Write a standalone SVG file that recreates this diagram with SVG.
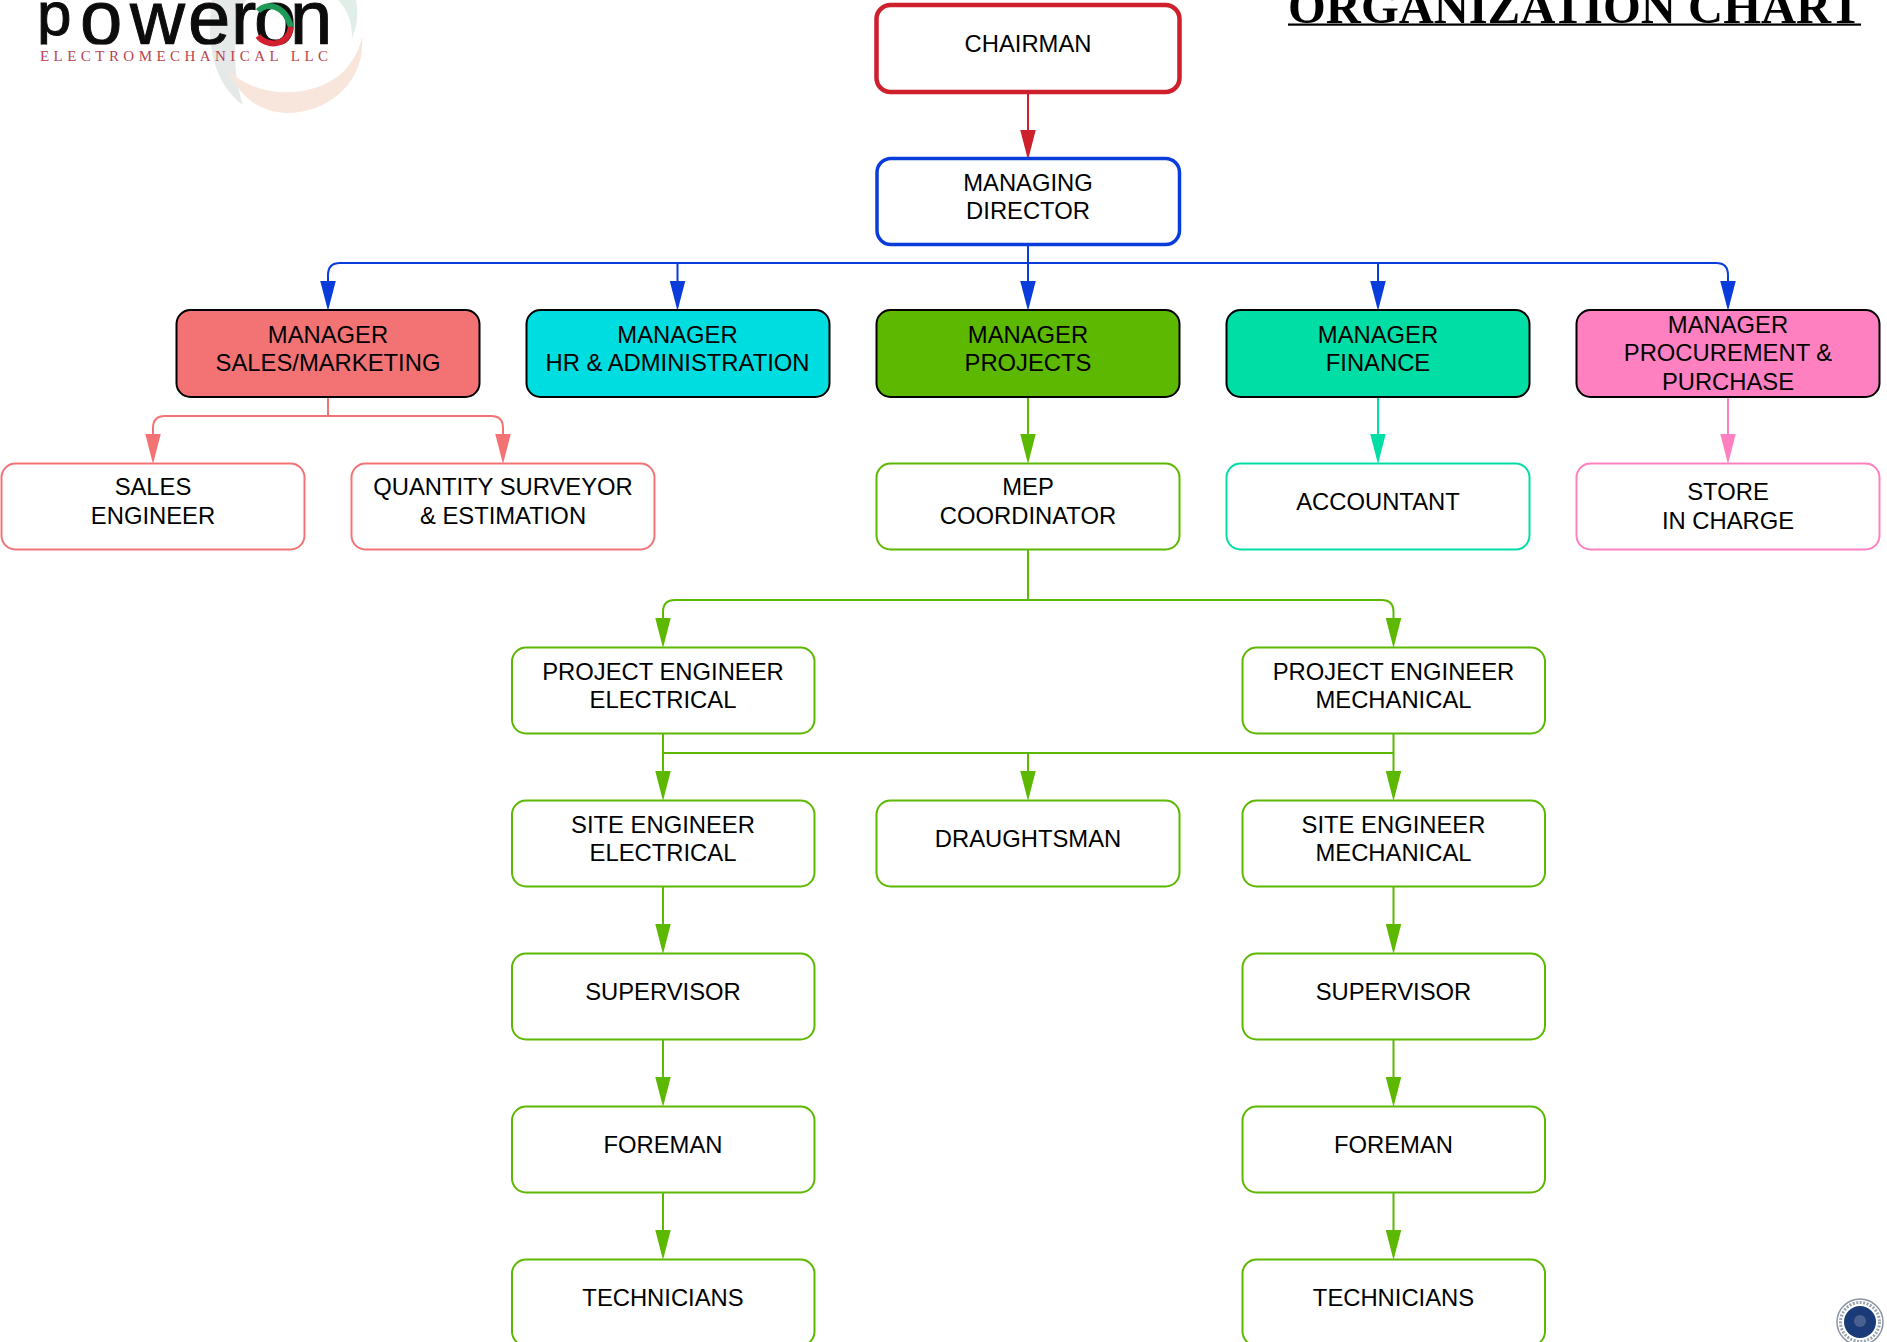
<svg xmlns="http://www.w3.org/2000/svg" width="1887" height="1342" viewBox="0 0 1887 1342">
<style>
text{font-family:"Liberation Sans",Arial,sans-serif}
.t{font-size:23.800px;fill:#000;text-anchor:middle}
.b{fill:#fff;stroke-width:2}
.m{stroke:#000;stroke-width:2}
.c{fill:none;stroke-width:2}
.red{stroke:#cd202c}.blue{stroke:#0a3cdc}.green{stroke:#5cb800}.sal{stroke:#f37375}.teal{stroke:#00dea6}.pink{stroke:#ff80c0}
</style>
<defs>
<clipPath id="logoClip"><rect x="30" y="0" width="310" height="44.500"/></clipPath>
<path id="h" d="M-7.750 -29H7.750L0 1Z"/>
</defs>
<g id="logo">
<path d="M212 0C205 45 215 85 243 105C232 70 232 30 246 0Z" fill="#e5e9e8"/>
<path d="M338 0C348 10 352 22 352 38C358 25 358 12 356 0Z" fill="#dfeee6"/>
<path d="M226 66C245 95 310 105 345 70C355 58 360 48 362 36C366 85 325 113 288 113C258 113 238 95 226 66Z" fill="#f8e6dc"/>
<text clip-path="url(#logoClip)" style="font-size:76px;fill:#0c0c0c;stroke:#0c0c0c;stroke-width:1"><tspan x="37" y="35" style="font-size:62px">p</tspan><tspan x="80 130 188 231 254 290" y="44">oweron</tspan></text>
<path d="M258 11C266 3 284 3 291 27" fill="none" stroke="#1d9a57" stroke-width="6"/>
<path d="M258 36C266 47 288 47 291 27" fill="none" stroke="#d3202e" stroke-width="6"/>
<text x="40" y="61" style="font-family:'Liberation Serif',serif;font-size:15px;letter-spacing:4.450px;fill:#b8434f">ELECTROMECHANICAL LLC</text>
</g>
<g id="title"><text x="1288" y="22.500" style="font-family:'Liberation Serif',serif;font-weight:bold;font-size:48.600px">ORGANIZATION CHART</text><rect x="1288" y="23.500" width="573" height="2.200"/></g>
<g id="seal">
<circle cx="1860" cy="1322" r="23" fill="#fff" stroke="#8a94a3" stroke-width="1.500"/>
<circle cx="1860" cy="1322" r="19.500" fill="none" stroke="#9aa3b0" stroke-width="3" stroke-dasharray="2 1.500"/>
<circle cx="1860" cy="1322" r="16" fill="#1a3a78"/>
<circle cx="1860" cy="1321" r="6" fill="#4a6090"/>
</g>
<g id="connectors">
<path class="c red" d="M1028 93V140"/><use href="#h" x="1028" y="159" fill="#cd202c"/>
<path class="c blue" d="M1028 245V290M1028 263H340Q328 263 328 275V290M677.500 263V290M1378 263V290M1028 263H1716Q1728 263 1728 275V290"/>
<g fill="#0a3cdc"><use href="#h" x="328" y="310"/><use href="#h" x="677.500" y="310"/><use href="#h" x="1028" y="310"/><use href="#h" x="1378" y="310"/><use href="#h" x="1728" y="310"/></g>
<path class="c sal" d="M328 397V416M328 416H165Q153 416 153 428V440M328 416H491Q503 416 503 428V440"/>
<g fill="#f37375"><use href="#h" x="153" y="463"/><use href="#h" x="503" y="463"/></g>
<path class="c green" d="M1028 397V440M1028 549V600M1028 600H675Q663 600 663 612V625M1028 600H1381.500Q1393.500 600 1393.500 612V625M663 734V780M1393.500 734V780M663 753H1393.500M1028 753V780M663 887V930M1393.500 887V930M663 1040V1085M1393.500 1040V1085M663 1192V1240M1393.500 1192V1240"/>
<g fill="#5cb800"><use href="#h" x="1028" y="463"/><use href="#h" x="663" y="647"/><use href="#h" x="1393.500" y="647"/><use href="#h" x="663" y="800"/><use href="#h" x="1028" y="800"/><use href="#h" x="1393.500" y="800"/><use href="#h" x="663" y="953"/><use href="#h" x="1393.500" y="953"/><use href="#h" x="663" y="1106"/><use href="#h" x="1393.500" y="1106"/><use href="#h" x="663" y="1259"/><use href="#h" x="1393.500" y="1259"/></g>
<path class="c teal" d="M1378 397V440"/><use href="#h" x="1378" y="463" fill="#00dea6"/>
<path class="c pink" d="M1728 397V440"/><use href="#h" x="1728" y="463" fill="#ff80c0"/>
</g>
<g id="chairman"><rect x="876.500" y="5" width="303" height="87" rx="14" fill="#fff" stroke="#cd202c" stroke-width="4.500"/><text class="t" x="1028" y="52">CHAIRMAN</text></g>
<g id="md"><rect x="877" y="158.500" width="302.500" height="86" rx="14" fill="#fff" stroke="#0a3cdc" stroke-width="3.500"/><text class="t" x="1028" y="190.500">MANAGING</text><text class="t" x="1028" y="219">DIRECTOR</text></g>
<g id="mgr-sales"><rect class="m" x="176.500" y="310" width="303" height="87" rx="14" fill="#f37375"/><text class="t" x="328" y="343">MANAGER</text><text class="t" x="328" y="371">SALES/MARKETING</text></g>
<g id="mgr-hr"><rect class="m" x="526.500" y="310" width="303" height="87" rx="14" fill="#00dde0"/><text class="t" x="677.500" y="343">MANAGER</text><text class="t" x="677.500" y="371">HR &amp; ADMINISTRATION</text></g>
<g id="mgr-projects"><rect class="m" x="876.500" y="310" width="303" height="87" rx="14" fill="#5cb800"/><text class="t" x="1028" y="343">MANAGER</text><text class="t" x="1028" y="371">PROJECTS</text></g>
<g id="mgr-finance"><rect class="m" x="1226.500" y="310" width="303" height="87" rx="14" fill="#00dea6"/><text class="t" x="1378" y="343">MANAGER</text><text class="t" x="1378" y="371">FINANCE</text></g>
<g id="mgr-procurement"><rect class="m" x="1576.500" y="310" width="303" height="87" rx="14" fill="#ff80c0"/><text class="t" x="1728" y="332.500">MANAGER</text><text class="t" x="1728" y="361">PROCUREMENT &amp;</text><text class="t" x="1728" y="389.500">PURCHASE</text></g>
<g id="sales-engineer"><rect class="b sal" x="1.500" y="463.500" width="303" height="86" rx="14"/><text class="t" x="153" y="495">SALES</text><text class="t" x="153" y="524">ENGINEER</text></g>
<g id="qs"><rect class="b sal" x="351.500" y="463.500" width="303" height="86" rx="14"/><text class="t" x="503" y="495">QUANTITY SURVEYOR</text><text class="t" x="503" y="524">&amp; ESTIMATION</text></g>
<g id="mep"><rect class="b green" x="876.500" y="463.500" width="303" height="86" rx="14"/><text class="t" x="1028" y="495">MEP</text><text class="t" x="1028" y="524">COORDINATOR</text></g>
<g id="accountant"><rect class="b teal" x="1226.500" y="463.500" width="303" height="86" rx="14"/><text class="t" x="1378" y="510">ACCOUNTANT</text></g>
<g id="store"><rect class="b pink" x="1576.500" y="463.500" width="303" height="86" rx="14"/><text class="t" x="1728" y="500">STORE</text><text class="t" x="1728" y="528.500">IN CHARGE</text></g>
<g id="pe-elec"><rect class="b green" x="512" y="647.500" width="302.500" height="86" rx="14"/><text class="t" x="663" y="680">PROJECT ENGINEER</text><text class="t" x="663" y="708">ELECTRICAL</text></g>
<g id="pe-mech"><rect class="b green" x="1242.500" y="647.500" width="302.500" height="86" rx="14"/><text class="t" x="1393.500" y="680">PROJECT ENGINEER</text><text class="t" x="1393.500" y="708">MECHANICAL</text></g>
<g id="se-elec"><rect class="b green" x="512" y="800.500" width="302.500" height="86" rx="14"/><text class="t" x="663" y="832.500">SITE ENGINEER</text><text class="t" x="663" y="861">ELECTRICAL</text></g>
<g id="draughtsman"><rect class="b green" x="876.500" y="800.500" width="303" height="86" rx="14"/><text class="t" x="1028" y="847">DRAUGHTSMAN</text></g>
<g id="se-mech"><rect class="b green" x="1242.500" y="800.500" width="302.500" height="86" rx="14"/><text class="t" x="1393.500" y="832.500">SITE ENGINEER</text><text class="t" x="1393.500" y="861">MECHANICAL</text></g>
<g id="sup-elec"><rect class="b green" x="512" y="953.500" width="302.500" height="86" rx="14"/><text class="t" x="663" y="1000">SUPERVISOR</text></g>
<g id="sup-mech"><rect class="b green" x="1242.500" y="953.500" width="302.500" height="86" rx="14"/><text class="t" x="1393.500" y="1000">SUPERVISOR</text></g>
<g id="fore-elec"><rect class="b green" x="512" y="1106.500" width="302.500" height="86" rx="14"/><text class="t" x="663" y="1153">FOREMAN</text></g>
<g id="fore-mech"><rect class="b green" x="1242.500" y="1106.500" width="302.500" height="86" rx="14"/><text class="t" x="1393.500" y="1153">FOREMAN</text></g>
<g id="tech-elec"><rect class="b green" x="512" y="1259.500" width="302.500" height="86" rx="14"/><text class="t" x="663" y="1306">TECHNICIANS</text></g>
<g id="tech-mech"><rect class="b green" x="1242.500" y="1259.500" width="302.500" height="86" rx="14"/><text class="t" x="1393.500" y="1306">TECHNICIANS</text></g>
</svg>
